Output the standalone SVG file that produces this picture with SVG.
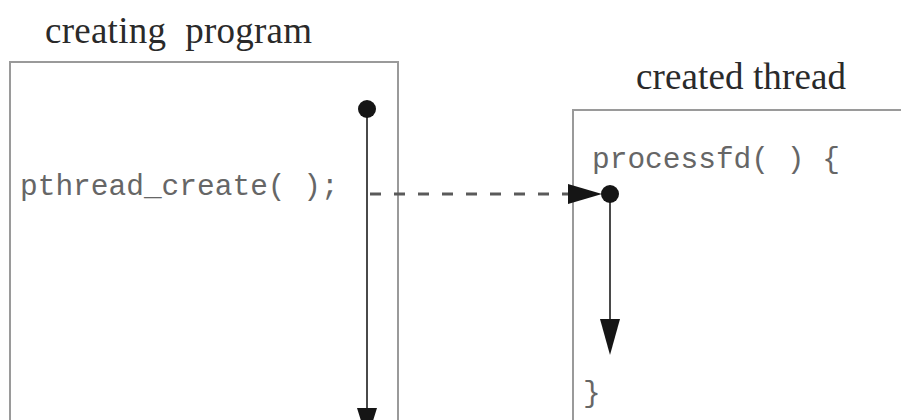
<svg xmlns="http://www.w3.org/2000/svg" width="901" height="420" viewBox="0 0 901 420">
<defs>
<style>
.box{fill:none;stroke:#9a9a9a;stroke-width:2}
.title{font-family:"Liberation Serif","Times New Roman",serif;font-size:37px;fill:#2a2a2a}
.code{font-family:"Liberation Mono","Courier New",monospace;font-size:29.5px;fill:#666}
.flow{stroke:#4a4a4a;stroke-width:2;fill:none}
.dash{stroke:#5a5a5a;stroke-width:3;stroke-dasharray:11,13;fill:none}
.dot{fill:#151515}
.head{fill:#151515}
</style>
</defs>
<rect width="901" height="420" fill="#fff"/>
<g id="creating-program">
<path class="box" d="M10 430 V62 H398 V430"/>
<text class="title" x="45" y="43" xml:space="preserve" textLength="267">creating  program</text>
<text class="code" x="20" y="195">pthread_create( );</text>
</g>
<g id="created-thread">
<path class="box" d="M573 430 V110 H905"/>
<text class="title" x="636" y="89" textLength="210">created thread</text>
<text class="code" x="592" y="168">processfd( ) {</text>
<text class="code" x="583" y="402">}</text>
</g>
<g id="connectors">
<line class="flow" x1="367" y1="109" x2="367" y2="410"/>
<circle class="dot" cx="367" cy="109" r="9"/>
<polygon class="head" points="357,408 377,408 367,440"/>
<line class="dash" x1="370" y1="194" x2="568" y2="194"/>
<polygon class="head" points="568,184 568,204 602,194"/>
<line class="flow" x1="610" y1="194" x2="610" y2="322"/>
<circle class="dot" cx="610" cy="194" r="9"/>
<polygon class="head" points="600,319 620,319 610,355"/>
</g>
</svg>
